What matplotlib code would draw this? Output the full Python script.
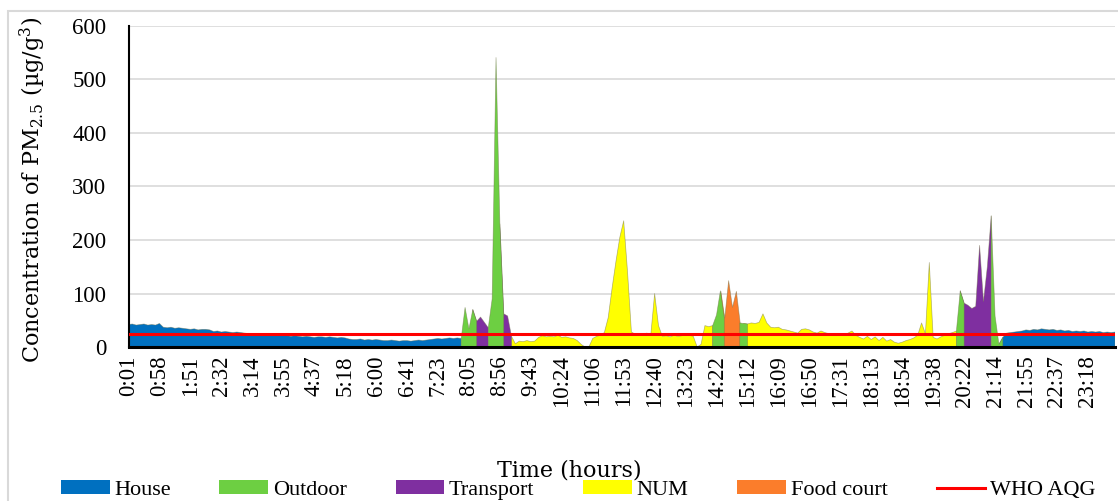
import numpy as np
import matplotlib.pyplot as plt
from matplotlib.patches import Patch, Rectangle
from matplotlib.lines import Line2D

plt.rcParams['mathtext.fontset'] = 'custom'
plt.rcParams['mathtext.rm'] = 'DejaVu Serif'

# PM2.5 readings (ug/m3), one value per sample, grouped by where the person was
house_am = [42, 43, 41, 42, 43, 41, 42, 41,
            44, 37, 36, 37, 35, 36, 35,
            34, 33, 34, 32, 33, 33, 32,
            29, 30, 28, 29, 28, 27, 28, 27, 26,
            25, 24, 24, 23, 24, 23, 22, 23, 22, 22,
            21, 20, 21, 20, 19, 20, 19, 18, 19,
            19, 18, 19, 18, 17, 18, 17,
            15, 14, 14, 15, 13, 14, 13, 14, 13, 12,
            12, 13, 12, 11, 12, 12, 11, 12, 13, 12, 13, 14, 15,
            16, 15, 16, 17, 16, 17, 16]
outdoor_1 = [74, 34, 70]
transport_1 = [48, 56, 46, 36]
outdoor_2 = [90, 541, 230]
transport_2 = [62, 58, 20]
num_1 = [6, 11, 10, 12, 10, 11, 18, 21, 19, 20, 19, 22, 18, 19, 17, 16, 12, 5,
         0, 0,
         16, 20, 22, 27, 55, 110, 160, 205, 236, 140, 28, 24, 22, 24, 26, 22,
         100, 40, 20, 21, 19, 22, 20, 21, 23, 22, 20, 0, 5, 40, 38, 40]
outdoor_3 = [60, 105]
food_court = [55, 125, 75, 105, 45]
outdoor_4 = [44]
num_2 = [43, 45, 44, 46, 62, 45, 37, 36, 37,
         33, 32, 30, 28, 26, 33, 34, 32, 28, 26,
         30, 27, 25, 24, 23, 24, 22, 26, 30, 22,
         18, 15, 20, 14, 19, 12, 18, 11, 14, 9,
         7, 9, 12, 14, 17, 22, 45, 25, 158, 18,
         15, 19, 22, 25, 27, 30]
outdoor_5 = [105]
transport_3 = [82, 78, 72, 76, 190, 85, 150, 245]
outdoor_6 = [58, 5]
house_pm = [18, 26, 27, 28, 29, 30, 32, 31, 33, 32, 34, 33, 32, 33, 31,
            32, 30, 31, 29, 30, 29, 30, 28, 29, 28, 29, 27, 28, 27, 28]

who_aqg = 25

time_labels = ["0:01", "0:58", "1:51", "2:32", "3:14", "3:55", "4:37", "5:18",
               "6:00", "6:41", "7:23", "8:05", "8:56", "9:43", "10:24", "11:06",
               "11:53", "12:40", "13:23", "14:22", "15:12", "16:09", "16:50",
               "17:31", "18:13", "18:54", "19:38", "20:22", "21:14", "21:55",
               "22:37", "23:18"]

places = ["House", "Outdoor", "Transport", "NUM", "Food court"]
colors = {"House": "#0070C0", "Outdoor": "#6DCF42", "Transport": "#7F2FA0",
          "NUM": "#FFFF00", "Food court": "#FB7D2B"}

segments = [("House", house_am), ("Outdoor", outdoor_1), ("Transport", transport_1),
            ("Outdoor", outdoor_2), ("Transport", transport_2), ("NUM", num_1),
            ("Outdoor", outdoor_3), ("Food court", food_court), ("Outdoor", outdoor_4),
            ("NUM", num_2), ("Outdoor", outdoor_5), ("Transport", transport_3),
            ("Outdoor", outdoor_6), ("House", house_pm)]

values = np.concatenate([np.array(v, dtype=float) for _, v in segments])
place = np.concatenate([[name] * len(v) for name, v in segments])
x = np.arange(len(values))

fig = plt.figure(figsize=(11.18, 5.01), dpi=100)
ax = fig.add_axes([128.5 / 1118, 154 / 501, (1115 - 128.5) / 1118, 321 / 501])

# outdoor spikes drawn last so their slopes stay green
for name in ["House", "NUM", "Food court", "Transport", "Outdoor"]:
    m = place == name
    ext = m | np.append(m[1:], False)   # join to the sample before the block
    if name == "Outdoor":
        ext = ext | np.insert(m[:-1], 0, False)
    ax.fill_between(x, 0, values, where=ext, facecolor=colors[name],
                    edgecolor=(0.45, 0.45, 0.3, 0.55), linewidth=0.5, zorder=2)

ax.axhline(who_aqg, color="#FF0000", lw=2.2, zorder=3)

ax.set_xlim(0, len(values) - 1)
ax.set_ylim(0, 600)
ax.set_yticks(np.arange(0, 601, 100))
ax.set_xticks(np.arange(0, len(time_labels) * 8, 8))
ax.set_xticklabels(time_labels, rotation=90, family="Liberation Serif", fontsize=16.5)
for t in ax.get_yticklabels():
    t.set_family("Liberation Serif")
    t.set_fontsize(16.5)
ax.tick_params(length=0)
ax.tick_params(axis="y", pad=16)
ax.tick_params(axis="x", pad=6)

ax.grid(axis="y", color="#d9d9d9", lw=1.2)
ax.set_axisbelow(True)
for s in ["top", "right"]:
    ax.spines[s].set_visible(False)
ax.spines["left"].set_linewidth(1.5)
ax.spines["bottom"].set_linewidth(2.2)
ax.spines["bottom"].set_zorder(4)

fig.text(33 / 1118, 1 - 190 / 501,
         r"Concentration of PM$_{\mathrm{2.5}}$ (µg/g$^{\mathrm{3}}$)",
         rotation=90, ha="center", va="center", family="DejaVu Serif", fontsize=16)
fig.text(569.5 / 1118, 1 - 470 / 501, "Time (hours)",
         ha="center", va="center", family="DejaVu Serif", fontsize=16)

handles = [Patch(facecolor=colors[p], edgecolor="none") for p in places]
handles.append(Line2D([], [], color="#FF0000", lw=2.2))
fig.legend(handles, places + ["WHO AQG"], loc="center", ncol=6,
           bbox_to_anchor=(578 / 1118, 1 - 490 / 501), frameon=False,
           prop={"family": "Liberation Serif", "size": 16},
           handlelength=2.2, handleheight=0.6, handletextpad=0.2, columnspacing=2.2)

fig.add_artist(Rectangle((8 / 1118, -0.1), 1.2, 1.1 - 11 / 501,
                         transform=fig.transFigure, fill=False,
                         edgecolor="#d9d9d9", lw=1.5))

fig.savefig("out.png", dpi=100)
